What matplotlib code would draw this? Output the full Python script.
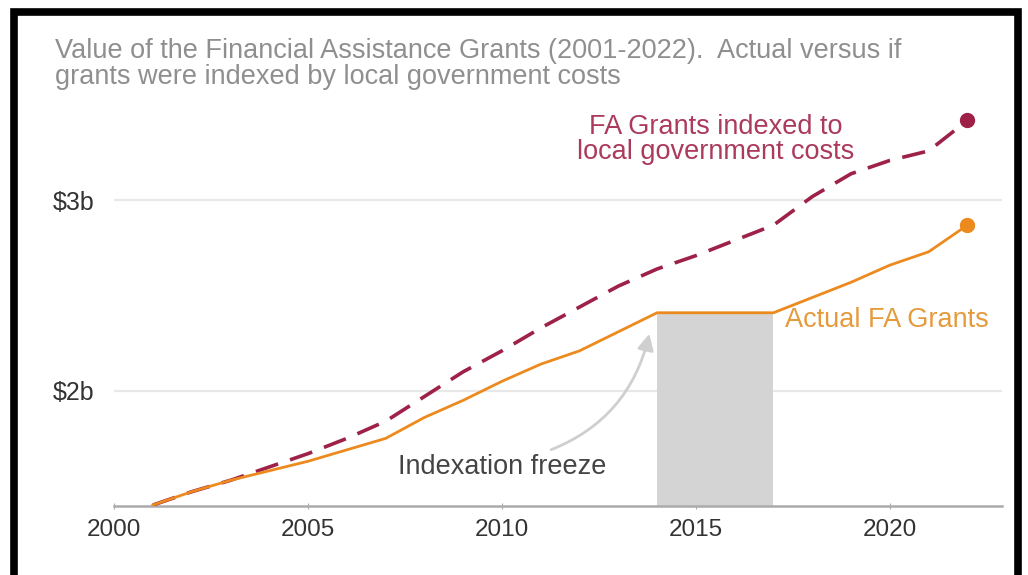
import matplotlib

matplotlib.use("Agg")
import matplotlib.pyplot as plt
from matplotlib.patches import Rectangle

plt.rcParams["font.family"] = ["Liberation Sans", "DejaVu Sans"]

# values, billions of dollars
years = [2001, 2002, 2003, 2004, 2005, 2006, 2007, 2008, 2009, 2010, 2011,
         2012, 2013, 2014, 2015, 2016, 2017, 2018, 2019, 2020, 2021, 2022]
actual = [1.40, 1.47, 1.53, 1.58, 1.63, 1.69, 1.75, 1.86, 1.95, 2.05, 2.14,
          2.21, 2.31, 2.41, 2.41, 2.41, 2.41, 2.49, 2.57, 2.66, 2.73, 2.87]
indexed = [1.40, 1.47, 1.53, 1.60, 1.67, 1.75, 1.84, 1.97, 2.10, 2.21, 2.33,
           2.44, 2.55, 2.64, 2.71, 2.79, 2.87, 3.02, 3.14, 3.21, 3.26, 3.42]
freeze_start, freeze_end = 2014, 2017
freeze_level = 2.41

x_ticks = [2000, 2005, 2010, 2015, 2020]
y_ticks = [2, 3]
y_labels = ["$2b", "$3b"]

orange = "#ec8a1e"
maroon = "#9e2148"
grey_txt = "#8f8f8f"

fig = plt.figure(figsize=(10.28, 5.75), dpi=100)
ax = fig.add_axes([0.111, 0.12, 0.864, 0.697])

ax.fill_between([freeze_start, freeze_end], 1.395, freeze_level,
                color="#d4d4d4", lw=0, zorder=1)

ax.plot(years, indexed, color=maroon, lw=2.6, dashes=(6.5, 3.5),
        solid_capstyle="butt", zorder=3)
ax.plot(years, actual, color=orange, lw=2.0, zorder=4)
ax.plot(years[-1], indexed[-1], "o", color=maroon, ms=10, zorder=5)
ax.plot(years[-1], actual[-1], "o", color=orange, ms=10, zorder=5)

ax.set_xlim(2000, 2022.9)
ax.set_ylim(1.395, 3.5)
ax.set_xticks(x_ticks)
ax.set_yticks(y_ticks)
ax.set_yticklabels(y_labels)
ax.grid(axis="y", color="#e8e8e8", lw=1.6)
ax.set_axisbelow(True)

for side in ["left", "right", "top"]:
    ax.spines[side].set_visible(False)
ax.spines["bottom"].set_color("#ababab")
ax.spines["bottom"].set_linewidth(1.8)
ax.tick_params(axis="y", length=0, pad=14, labelsize=18, labelcolor="#333333")
ax.tick_params(axis="x", length=4, direction="inout", color="#ababab",
               pad=7, labelsize=17.5, labelcolor="#333333")

ax.text(2015.5, 3.32, "FA Grants indexed to\nlocal government costs",
        color="#ab3a5c", fontsize=19.5, ha="center", va="center", linespacing=0.95)
ax.text(2017.3, 2.37, "Actual FA Grants", color="#e59a3c", fontsize=19.5,
        ha="left", va="center")

ax.annotate("Indexation freeze", xy=(2013.8, 2.30), xytext=(2010.0, 1.60),
            fontsize=19.5, color="#444444", ha="center", va="center",
            arrowprops=dict(arrowstyle="-|>,head_length=0.5,head_width=0.25",
                            color="#cfcfcf", lw=2, shrinkA=3, shrinkB=0,
                            relpos=(0.68, 1.0),
                            connectionstyle="arc3,rad=0.28"))

fig.text(55 / 1028, 1 - 38 / 575,
         "Value of the Financial Assistance Grants (2001-2022).  Actual versus if\n"
         "grants were indexed by local government costs",
         color=grey_txt, fontsize=19.5, ha="left", va="top", linespacing=0.98)

# black frame around the picture
fig.patches.append(Rectangle((13.5 / 1028, -0.01), 1004.5 / 1028, 1 - 11.5 / 575 + 0.01,
                             transform=fig.transFigure, fill=False,
                             ec="black", lw=5.5, zorder=10))

fig.savefig("out.png", dpi=100, facecolor="white")
